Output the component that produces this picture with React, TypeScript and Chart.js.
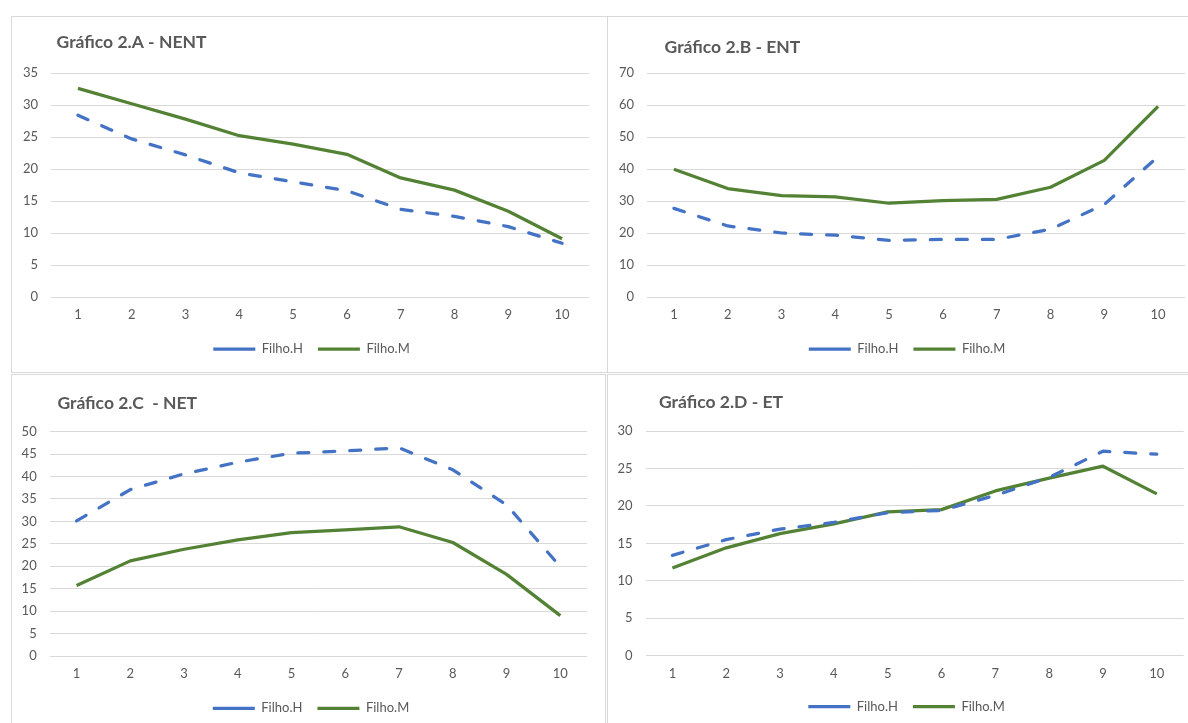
import React, { useEffect, useRef } from "react";
import { Chart, registerables } from "chart.js";

Chart.register(...registerables);

// ---------- DATA ----------
const categories = ["1", "2", "3", "4", "5", "6", "7", "8", "9", "10"];
const seriesNames = ["Filho.H", "Filho.M"];

const titleA = "Gráfico 2.A - NENT";
const titleB = "Gráfico 2.B - ENT";
const titleC = "Gráfico 2.C  - NET";
const titleD = "Gráfico 2.D - ET";

const nentH = [28.4, 24.7, 22.2, 19.4, 18.0, 16.6, 13.7, 12.6, 11.0, 8.4];
const nentM = [32.6, 30.2, 27.8, 25.2, 23.9, 22.3, 18.6, 16.7, 13.4, 9.1];

const entH = [27.7, 22.2, 20.0, 19.3, 17.7, 18.0, 18.0, 21.2, 28.9, 43.9];
const entM = [39.9, 33.9, 31.7, 31.3, 29.3, 30.1, 30.5, 34.3, 42.7, 59.6];

const netH = [30.1, 37.1, 40.6, 43.2, 45.2, 45.7, 46.4, 41.5, 33.7, 19.9];
const netM = [15.7, 21.2, 23.8, 25.9, 27.5, 28.1, 28.8, 25.3, 18.2, 9.0];

const etH = [13.4, 15.5, 16.9, 17.8, 19.1, 19.4, 21.4, 23.8, 27.3, 26.9];
const etM = [11.7, 14.4, 16.3, 17.6, 19.2, 19.5, 22.0, 23.7, 25.3, 21.6];

const yTicksA = [0, 5, 10, 15, 20, 25, 30, 35];
const yTicksB = [0, 10, 20, 30, 40, 50, 60, 70];
const yTicksC = [0, 5, 10, 15, 20, 25, 30, 35, 40, 45, 50];
const yTicksD = [0, 5, 10, 15, 20, 25, 30];

// ---------- STYLE ----------
const BLUE = "#4472C4";
const GREEN = "#548235";
const TEXT = "#595959";
const GRID = "#d9d9d9";
const FONT = "Lato";

type Geom = {
  left: number; top: number; w: number; h: number;
  chartL: number; chartR: number; chartT: number; chartB: number;
  titleX: number; titleY: number; legendCX: number; legendCY: number;
};

const titlePlugin = {
  id: "panelTitle",
  afterDraw(chart: any, _args: any, opts: any) {
    const ctx = chart.ctx;
    ctx.save();
    ctx.font = `700 17.5px ${FONT}`;
    ctx.fillStyle = TEXT;
    ctx.textAlign = "left";
    ctx.textBaseline = "middle";
    ctx.fillText(opts.text, opts.x, opts.y);
    ctx.restore();
  },
};

function Panel(props: { title: string; h: number[]; m: number[]; ticks: number[]; g: Geom }) {
  const ref = useRef<HTMLCanvasElement>(null);
  const { title, h, m, ticks, g } = props;
  const W = g.w - 2;
  const H = g.h - 2;

  useEffect(() => {
    if (!ref.current) return;
    const legendPad = 15;
    const fontSize = 13;
    const itemH = fontSize;
    const legendHeight = itemH + legendPad + 10;
    const legendTop = g.legendCY - (legendPad + itemH / 2);
    const padB = H - (legendTop + legendHeight);
    const xh = legendTop - g.chartB;
    const padR = 0;
    const padL = Math.max(0, 2 * g.legendCX - W);
    const yw = g.chartL - padL;
    const rw = W - padR - g.chartR;
    const step = ticks[1] - ticks[0];

    const chart = new Chart(ref.current, {
      type: "line",
      data: {
        labels: categories,
        datasets: [
          {
            label: seriesNames[0],
            data: h,
            borderColor: BLUE,
            backgroundColor: BLUE,
            borderWidth: 3.25,
            borderDash: [11, 15],
            borderCapStyle: "round",
            borderJoinStyle: "round",
            pointRadius: 0,
            pointHoverRadius: 0,
            tension: 0,
            fill: false,
            yAxisID: "y",
          },
          {
            label: seriesNames[1],
            data: m,
            borderColor: GREEN,
            backgroundColor: GREEN,
            borderWidth: 3.25,
            borderCapStyle: "butt",
            borderJoinStyle: "round",
            pointRadius: 0,
            pointHoverRadius: 0,
            tension: 0,
            fill: false,
            yAxisID: "y",
          },
        ],
      },
      options: {
        animation: false,
        responsive: false,
        devicePixelRatio: 1,
        layout: { padding: { left: padL, right: padR, top: g.chartT, bottom: padB } },
        scales: {
          x: {
            type: "category",
            offset: true,
            grid: { display: false, drawTicks: false },
            border: { display: false },
            ticks: { color: TEXT, font: { family: FONT, size: fontSize }, padding: 10, maxRotation: 0, autoSkip: false },
            afterFit: (s: any) => { s.height = xh; },
          },
          y: {
            type: "linear",
            position: "left",
            min: ticks[0],
            max: ticks[ticks.length - 1],
            ticks: { stepSize: step, color: TEXT, font: { family: FONT, size: fontSize }, padding: 13 },
            grid: { color: GRID, lineWidth: 1, drawTicks: false },
            border: { display: false },
            afterFit: (s: any) => { s.width = yw; },
          },
          yR: {
            type: "linear",
            position: "right",
            display: true,
            grid: { display: false, drawTicks: false },
            border: { display: false },
            ticks: { display: false },
            afterFit: (s: any) => { s.width = rw; },
          },
        },
        plugins: {
          legend: {
            display: true,
            position: "bottom",
            align: "center",
            labels: {
              usePointStyle: true,
              pointStyle: "line",
              pointStyleWidth: 42,
              color: TEXT,
              font: { family: FONT, size: fontSize },
              padding: legendPad,
            },
          },
          tooltip: { enabled: false },
          title: { display: false },
          panelTitle: { text: title, x: g.titleX, y: g.titleY },
        } as any,
      },
      plugins: [titlePlugin as any],
    } as any);
    return () => chart.destroy();
  }, []);

  return (
    <div
      style={{
        position: "absolute",
        left: g.left,
        top: g.top,
        width: g.w,
        height: g.h,
        boxSizing: "border-box",
        border: `1px solid ${GRID}`,
        background: "#fff",
      }}
    >
      <canvas ref={ref} width={W} height={H} style={{ position: "absolute", left: 0, top: 0, width: W, height: H }} />
    </div>
  );
}

const geomA: Geom = { left: 11, top: 16, w: 597, h: 357, chartL: 39, chartR: 577, chartT: 56, chartB: 280, titleX: 44.6, titleY: 25.7, legendCX: 299.5, legendCY: 332 };
const geomB: Geom = { left: 607, top: 16, w: 597, h: 357, chartL: 39, chartR: 577, chartT: 56, chartB: 280, titleX: 56.6, titleY: 30.6, legendCX: 299, legendCY: 332 };
const geomC: Geom = { left: 11, top: 374, w: 595, h: 360, chartL: 37.7, chartR: 575.2, chartT: 56.7, chartB: 281, titleX: 45.4, titleY: 28.3, legendCX: 299, legendCY: 333.3 };
const geomD: Geom = { left: 607, top: 374, w: 597, h: 360, chartL: 37.5, chartR: 575.7, chartT: 56, chartB: 280.7, titleX: 51, titleY: 27.7, legendCX: 298.5, legendCY: 331.7 };

export default function App() {
  return (
    <div style={{ position: "absolute", left: 0, top: 0, width: 1188, height: 723, overflow: "hidden", background: "#fff" }}>
      <Panel title={titleA} h={nentH} m={nentM} ticks={yTicksA} g={geomA} />
      <Panel title={titleB} h={entH} m={entM} ticks={yTicksB} g={geomB} />
      <Panel title={titleC} h={netH} m={netM} ticks={yTicksC} g={geomC} />
      <Panel title={titleD} h={etH} m={etM} ticks={yTicksD} g={geomD} />
    </div>
  );
}
